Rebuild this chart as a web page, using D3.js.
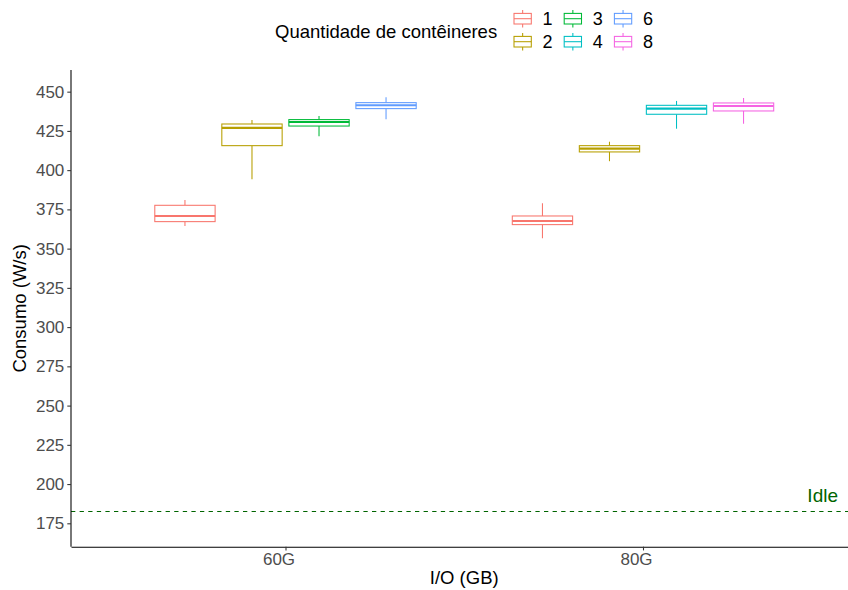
<!DOCTYPE html>
<html>
<head>
<meta charset="utf-8">
<script src="https://cdn.jsdelivr.net/npm/d3@7"></script>
<style>
  html, body { margin: 0; padding: 0; background: #fff; }
  svg { display: block; font-family: "Liberation Sans", Arial, Helvetica, sans-serif; }
</style>
</head>
<body>
<svg id="chart" width="848" height="590"></svg>
<script>
// I/O size categories on the x axis
const categories = ["60G", "80G"];
// container-count groups and their colours
const groups = ["1", "2", "3", "4", "6", "8"];
const groupColors = ["#F8766D", "#B79F00", "#00BA38", "#00BFC4", "#619CFF", "#F564E3"];

// one entry per box (summary statistics, W/s)
const boxIO       = ["60G", "60G", "60G", "60G", "80G", "80G", "80G", "80G"];
const boxGroup    = ["1",   "2",   "3",   "6",   "1",   "2",   "4",   "8"];
const whiskerLow  = [364.4, 394.2, 421.6, 432.4, 356.6, 405.7, 426.4, 429.6];
const q1          = [367.2, 415.6, 428.1, 439.2, 365.3, 411.6, 435.6, 437.7];
const median      = [370.8, 426.9, 430.7, 441.3, 367.6, 413.7, 439.2, 440.9];
const q3          = [377.6, 429.4, 432.2, 443.0, 370.8, 415.6, 441.3, 442.8];
const whiskerHigh = [381.0, 432.0, 434.5, 446.4, 378.9, 418.1, 444.1, 446.0];

// y tick values and idle consumption reference
const yTicks = [175, 200, 225, 250, 275, 300, 325, 350, 375, 400, 425, 450];
const idleValue = 182.5;
const idleLabel = "Idle";

const svg = d3.select("#chart");
const panel = { left: 71, right: 857.5, top: 70, bottom: 546.7 };

const x = d3.scaleLinear().domain([0.4, categories.length + 0.6]).range([panel.left, panel.right]);
const y = d3.scaleLinear().domain([160.1, 463.8]).range([panel.bottom, panel.top]);
const color = d3.scaleOrdinal().domain(groups).range(groupColors);

// dodge boxes within each category
const dodgeWidth = 0.75;
const boxes = boxIO.map((io, i) => ({
  io, group: boxGroup[i],
  lo: whiskerLow[i], q1: q1[i], med: median[i], q3: q3[i], hi: whiskerHigh[i]
}));
const byIO = d3.group(boxes, d => d.io);
byIO.forEach(list => {
  const n = list.length, slot = dodgeWidth / n;
  list.forEach((d, k) => {
    d.xc = categories.indexOf(d.io) + 1 - dodgeWidth / 2 + slot * (k + 0.5);
    d.w = slot * 0.9;
  });
});

// idle reference line
svg.append("line")
  .attr("x1", panel.left).attr("x2", panel.right)
  .attr("y1", y(idleValue)).attr("y2", y(idleValue))
  .attr("stroke", "#006400").attr("stroke-width", 1.07)
  .attr("stroke-dasharray", "4.3,4.3");
svg.append("text")
  .attr("x", 838).attr("y", y(idleValue) - 10)
  .attr("text-anchor", "end")
  .attr("fill", "#006400").attr("font-size", 19)
  .text(idleLabel);

// boxplots
const g = svg.append("g");
const bx = g.selectAll("g.box").data(boxes).join("g").attr("class", "box")
  .attr("stroke", d => color(d.group)).attr("fill", "none");
bx.append("line")
  .attr("x1", d => x(d.xc)).attr("x2", d => x(d.xc))
  .attr("y1", d => y(d.hi)).attr("y2", d => y(d.q3)).attr("stroke-width", 1.07);
bx.append("line")
  .attr("x1", d => x(d.xc)).attr("x2", d => x(d.xc))
  .attr("y1", d => y(d.q1)).attr("y2", d => y(d.lo)).attr("stroke-width", 1.07);
bx.append("rect")
  .attr("x", d => x(d.xc - d.w / 2)).attr("width", d => x(d.xc + d.w / 2) - x(d.xc - d.w / 2))
  .attr("y", d => y(d.q3)).attr("height", d => y(d.q1) - y(d.q3))
  .attr("fill", "#fff").attr("stroke-width", 1.07);
bx.append("line")
  .attr("x1", d => x(d.xc - d.w / 2)).attr("x2", d => x(d.xc + d.w / 2))
  .attr("y1", d => y(d.med)).attr("y2", d => y(d.med)).attr("stroke-width", 2.1);

// axes
const yAxis = svg.append("g").attr("transform", `translate(${panel.left},0)`)
  .call(d3.axisLeft(y).tickValues(yTicks).tickSizeOuter(0).tickSizeInner(3.7).tickPadding(3));
const xAxis = svg.append("g").attr("transform", `translate(0,${panel.bottom})`)
  .call(d3.axisBottom(x).tickValues(categories.map((c, i) => i + 1))
    .tickFormat((d, i) => categories[i]).tickSizeOuter(0).tickSizeInner(3.7).tickPadding(3));
[yAxis, xAxis].forEach(a => {
  a.select(".domain").attr("stroke", "#000").attr("stroke-width", 1.07);
  a.selectAll(".tick line").attr("stroke", "#333").attr("stroke-width", 1.07);
  a.selectAll(".tick text").attr("fill", "#4D4D4D").attr("font-size", 17)
    .attr("font-family", "Liberation Sans, Arial, sans-serif");
});
xAxis.selectAll(".tick text").attr("dx", -7);
yAxis.select(".domain").attr("d", `M0,${panel.top}V${panel.bottom}`);

// axis titles
svg.append("text")
  .attr("x", (panel.left + panel.right) / 2).attr("y", 584)
  .attr("text-anchor", "middle").attr("font-size", 18.5).text("I/O (GB)");
svg.append("text")
  .attr("transform", `translate(26,${(panel.top + panel.bottom) / 2}) rotate(-90)`)
  .attr("text-anchor", "middle").attr("font-size", 18.5).text("Consumo (W/s)");

// legend
const legend = svg.append("g");
legend.append("text").attr("x", 275).attr("y", 37.5).attr("font-size", 18.5)
  .text("Quantidade de contêineres");
const keyW = 17.3, colStep = 50.2, rowStep = 23;
groups.forEach((grp, i) => {
  const col = Math.floor(i / 2), row = i % 2;
  const kx = 514 + col * colStep, cy = 18.7 + row * rowStep;
  const kg = legend.append("g").attr("stroke", color(grp)).attr("fill", "none");
  kg.append("line").attr("x1", kx + keyW / 2).attr("x2", kx + keyW / 2)
    .attr("y1", cy - 8.7).attr("y2", cy + 8.7).attr("stroke-width", 1.07);
  kg.append("rect").attr("x", kx).attr("y", cy - 5.3).attr("width", keyW).attr("height", 10.6)
    .attr("fill", "#fff").attr("stroke-width", 1.07);
  kg.append("line").attr("x1", kx).attr("x2", kx + keyW)
    .attr("y1", cy).attr("y2", cy).attr("stroke-width", 1.07);
  legend.append("text").attr("x", kx + 28.5).attr("y", cy + 6.5).attr("font-size", 18)
    .text(grp);
});
</script>
</body>
</html>
